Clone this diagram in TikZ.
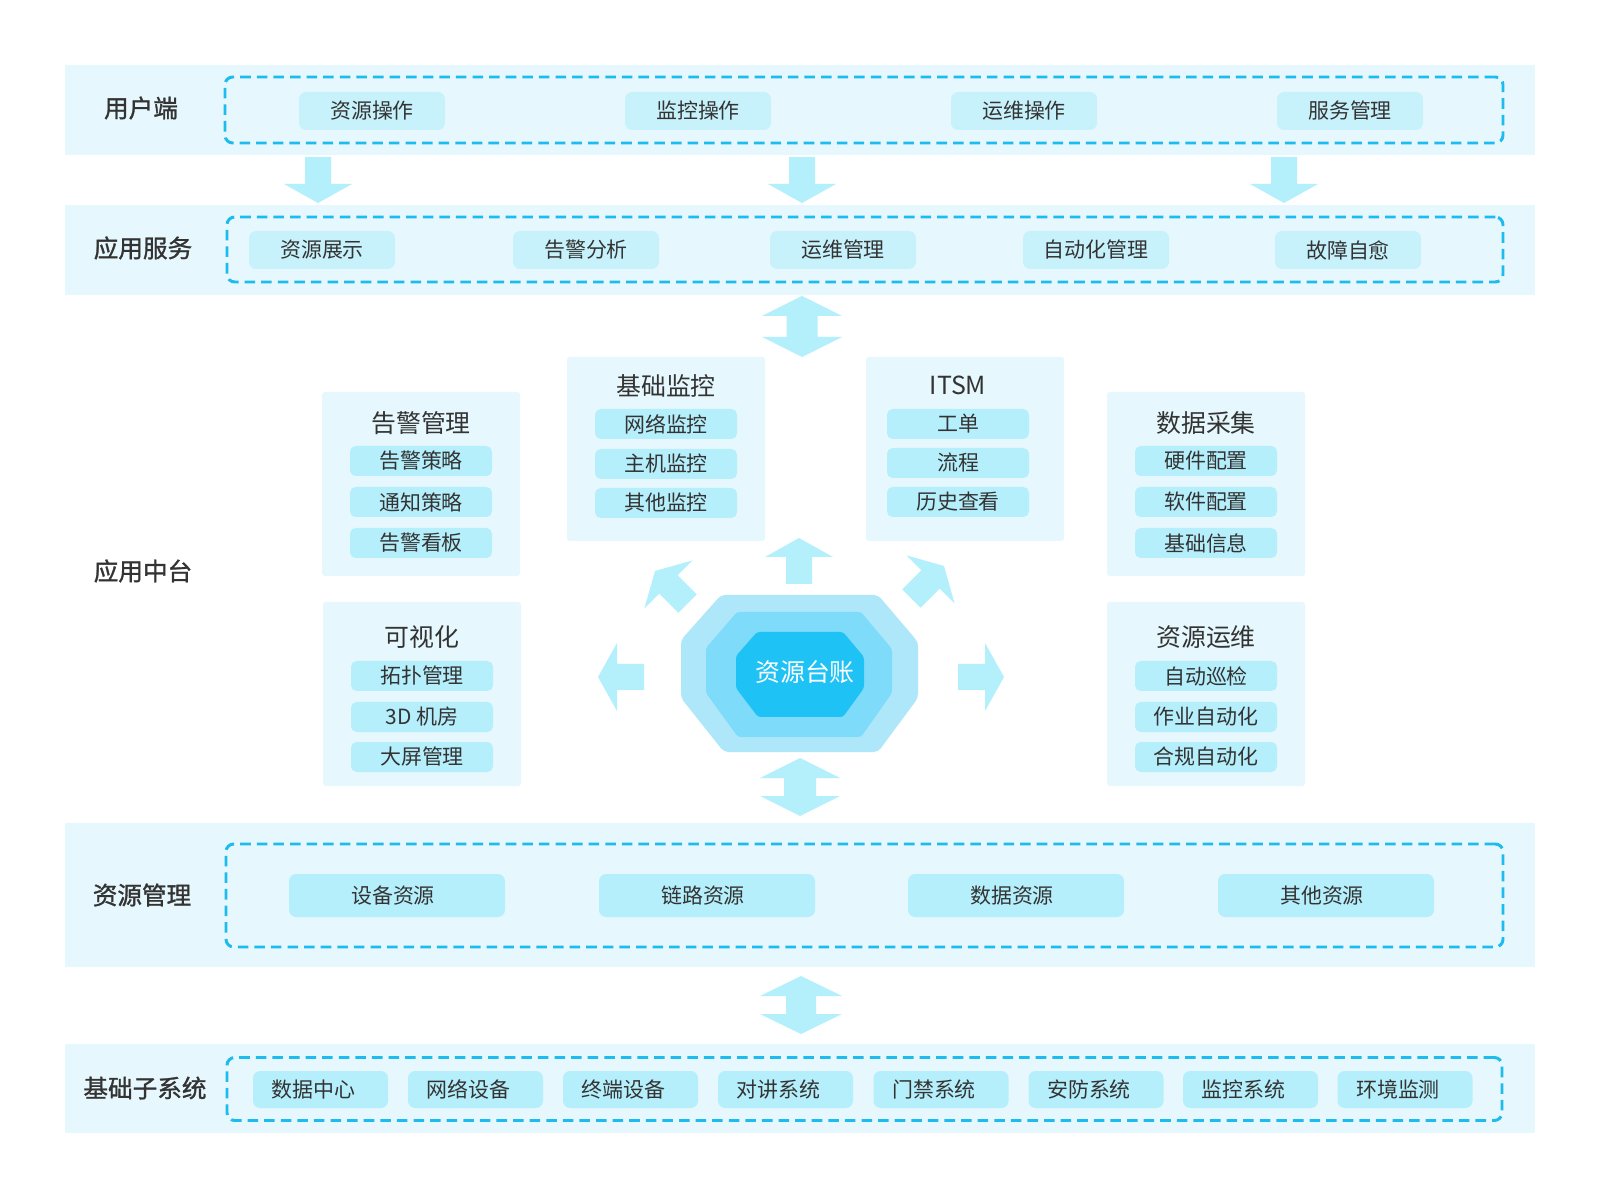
\documentclass[tikz,border=0pt]{standalone}
\usepackage{fontspec}
\setmainfont{Noto Sans CJK SC}
\newfontfamily\lblfont{Noto Sans CJK SC}[FakeBold=1.2]
\definecolor{bandbg}{HTML}{E6F8FD}
\definecolor{btnlight}{HTML}{C7F2FC}
\definecolor{btnc}{HTML}{B6EFFC}
\definecolor{dashc}{HTML}{1DBBEE}
\definecolor{arrowc}{HTML}{B4EFFC}
\definecolor{octa}{HTML}{AEE7F9}
\definecolor{octb}{HTML}{7EDBF9}
\definecolor{octc}{HTML}{1FC2F5}
\definecolor{txt}{HTML}{333333}
\def\pxu{0.025cm}
\newcommand\blockarrow[2]{%
  \fill[arrowc, shift={#1}, rotate=#2] (0,0) -- (34,19) -- (13,19) -- (13,46) -- (-13,46) -- (-13,19) -- (-34,19) -- cycle;}
\newcommand\dblarrow[5]{%
  \fill[arrowc] (#1,#2) -- (#1+#4,#2+20) -- (#1+#5,#2+20) -- (#1+#5,#3-20) -- (#1+#4,#3-20) -- (#1,#3) -- (#1-#4,#3-20) -- (#1-#5,#3-20) -- (#1-#5,#2+20) -- (#1-#4,#2+20) -- cycle;}
\begin{document}
\begin{tikzpicture}[x=0.025cm,y=-0.025cm,
  band/.style={fill=bandbg, draw=none, inner sep=0, outer sep=0},
  lbl/.style={text=txt, font=\fontsize{17.5}{20}\selectfont\lblfont, inner sep=0},
  dbox/.style={draw=dashc, line width=2.1pt, dash pattern=on 7.5pt off 4.3pt, rounded corners=5.5pt, inner sep=0},
  topbtn/.style={fill=btnlight, rounded corners=5pt, text=txt, font=\fontsize{14.9}{17}\selectfont, inner sep=0, minimum width=146*\pxu, minimum height=38*\pxu},
  resbtn/.style={fill=btnc, rounded corners=5pt, text=txt, font=\fontsize{14.9}{17}\selectfont, inner sep=0, minimum width=216*\pxu, minimum height=43*\pxu, text width=216*\pxu, align=center, xshift=0},
  subbtn/.style={fill=btnc, rounded corners=5pt, text=txt, font=\fontsize{14.9}{17}\selectfont, inner sep=0, minimum width=135*\pxu, minimum height=37*\pxu},
  panel/.style={fill=bandbg, rounded corners=2pt, inner sep=0, minimum width=198*\pxu, minimum height=184*\pxu},
  ptitle/.style={text=txt, font=\fontsize{17.7}{20}\selectfont, inner sep=0},
  pitem/.style={fill=btnc, rounded corners=4pt, text=txt, font=\fontsize{14.9}{17}\selectfont, inner sep=0, minimum width=142*\pxu, minimum height=30*\pxu},
  shl/.style={text width=#1*\pxu, align=left}
]
\useasboundingbox (0,0) rectangle (1600,1200);
\fill[white] (0,0) rectangle (1600,1200);

% ---------- band 1 ----------
\node[band, minimum width=1470*\pxu, minimum height=90*\pxu] (band1) at (800,110) {};
\node[lbl] (lab1) at (141,108) {用户端};
\node[dbox, minimum width=1278*\pxu, minimum height=66*\pxu] (dash1) at (864,110) {};
\node[topbtn] (u1) at (372,111) {资源操作};
\node[topbtn] (u2) at (698,111) {监控操作};
\node[topbtn] (u3) at (1024,111) {运维操作};
\node[topbtn] (u4) at (1350,111) {服务管理};

% down arrows
\coordinate (da1) at (318,203);
\coordinate (da2) at (802,203);
\coordinate (da3) at (1284,203);
\blockarrow{(da1)}{180}
\blockarrow{(da2)}{180}
\blockarrow{(da3)}{180}

% ---------- band 2 ----------
\node[band, minimum width=1470*\pxu, minimum height=90*\pxu] (band2) at (800,250) {};
\node[lbl] (lab2) at (143,248) {应用服务};
\node[dbox, minimum width=1276*\pxu, minimum height=65*\pxu] (dash2) at (865,249.5) {};
\node[topbtn] (s1) at (322,250) {资源展示};
\node[topbtn] (s2) at (586,250) {告警分析};
\node[topbtn] (s3) at (843,250) {运维管理};
\node[topbtn] (s4) at (1096,250) {自动化管理};
\node[topbtn] (s5) at (1348,250) {故障自愈};

\dblarrow{802}{296}{357}{40}{15.5}

% ---------- middle ----------
\node[lbl] (lab3) at (143,571) {应用中台};

\node[panel] (pa) at (421,484) {};
\node[ptitle] (pat) at (421,423) {告警管理};
\node[pitem] (pa1) at (421,461) {告警策略};
\node[pitem] (pa2) at (421,502) {通知策略};
\node[pitem] (pa3) at (421,543) {告警看板};

\node[panel] (pb) at (422,694) {};
\node[ptitle] (pbt) at (422,637) {可视化};
\node[pitem] (pb1) at (422,676) {拓扑管理};
\node[pitem] (pb2) at (422,717) {3D 机房};
\node[pitem] (pb3) at (422,757) {大屏管理};

\node[panel] (pc) at (666,449) {};
\node[ptitle] (pct) at (666,386) {基础监控};
\node[pitem] (pc1) at (666,424) {网络监控};
\node[pitem] (pc2) at (666,464) {主机监控};
\node[pitem] (pc3) at (666,503) {其他监控};

\node[panel] (pd) at (965,449) {};
\node[ptitle] (pdt) at (958,385) {ITSM};
\node[pitem] (pd1) at (958,424) {工单};
\node[pitem] (pd2) at (958,463) {流程};
\node[pitem] (pd3) at (958,502) {历史查看};

\node[panel] (pe) at (1206,484) {};
\node[ptitle] (pet) at (1206,423) {数据采集};
\node[pitem] (pe1) at (1206,461) {硬件配置};
\node[pitem] (pe2) at (1206,502) {软件配置};
\node[pitem] (pe3) at (1206,543) {基础信息};

\node[panel] (pf) at (1206,694) {};
\node[ptitle] (pft) at (1206,637) {资源运维};
\node[pitem] (pf1) at (1206,676) {自动巡检};
\node[pitem] (pf2) at (1206,717) {作业自动化};
\node[pitem] (pf3) at (1206,757) {合规自动化};

% center octagon
\fill[octa, rounded corners=3pt] (721,595) -- (878,595) -- (918,642) -- (918,698) -- (878,752) -- (724,752) -- (681,698) -- (681,640) -- cycle;
\fill[octb, rounded corners=2pt] (737,612) -- (861,612) -- (892,649) -- (892,693) -- (861,737) -- (738,737) -- (706,693) -- (706,648) -- cycle;
\fill[octc, rounded corners=2pt] (757,632) -- (843,632) -- (864,657) -- (864,688) -- (843,717) -- (758,717) -- (736,688) -- (736,656) -- cycle;
\node[text=white, font=\fontsize{17.7}{20}\selectfont, inner sep=0] (core) at (805,672) {资源台账};

% arrows around center
\coordinate (aup) at (799,538);
\coordinate (aleft) at (598,677);
\coordinate (aright) at (1004,677);
\coordinate (aul) at (655,571);
\coordinate (aur) at (944,566);
\blockarrow{(aup)}{0}
\blockarrow{(aleft)}{90}
\blockarrow{(aright)}{-90}
\blockarrow{(aul)}{45}
\blockarrow{(aur)}{-45}

\dblarrow{800}{758}{816}{40}{16}

% ---------- band 4 ----------
\node[band, minimum width=1470*\pxu, minimum height=144*\pxu] (band4) at (800,895) {};
\node[lbl] (lab4) at (142,895) {资源管理};
\node[dbox, minimum width=1277*\pxu, minimum height=103*\pxu] (dash4) at (864.5,895.5) {};
\node[resbtn] (r1) at (397,895.5) {};
\node[resbtn] (r2) at (707,895.5) {};
\node[resbtn] (r3) at (1016,895.5) {};
\node[resbtn] (r4) at (1326,895.5) {};
\foreach \n/\t in {r1/设备资源, r2/链路资源, r3/数据资源, r4/其他资源}
  \node[text=txt, font=\fontsize{14.9}{17}\selectfont, inner sep=0] at ([xshift=-4*\pxu]\n.center) {\t};

\dblarrow{801}{976}{1034}{41}{15}

% ---------- band 5 ----------
\node[band, minimum width=1470*\pxu, minimum height=89*\pxu] (band5) at (800,1088.5) {};
\node[lbl] (lab5) at (145,1088) {基础子系统};
\node[dbox, minimum width=1275*\pxu, minimum height=63*\pxu] (dash5) at (864.5,1089) {};
\node[subbtn] (b1) at (320.5,1089.5) {};
\node[subbtn] (b2) at (475.5,1089.5) {};
\node[subbtn] (b3) at (630.5,1089.5) {};
\node[subbtn] (b4) at (785.5,1089.5) {};
\node[subbtn] (b5) at (941,1089.5) {};
\node[subbtn] (b6) at (1096,1089.5) {};
\node[subbtn] (b7) at (1250.5,1089.5) {};
\node[subbtn] (b8) at (1405,1089.5) {};
\foreach \n/\t in {b1/数据中心, b2/网络设备, b3/终端设备, b4/对讲系统, b5/门禁系统, b6/安防系统, b7/监控系统, b8/环境监测}
  \node[text=txt, font=\fontsize{14.9}{17}\selectfont, inner sep=0] at ([xshift=-7*\pxu]\n.center) {\t};
\end{tikzpicture}
\end{document}
